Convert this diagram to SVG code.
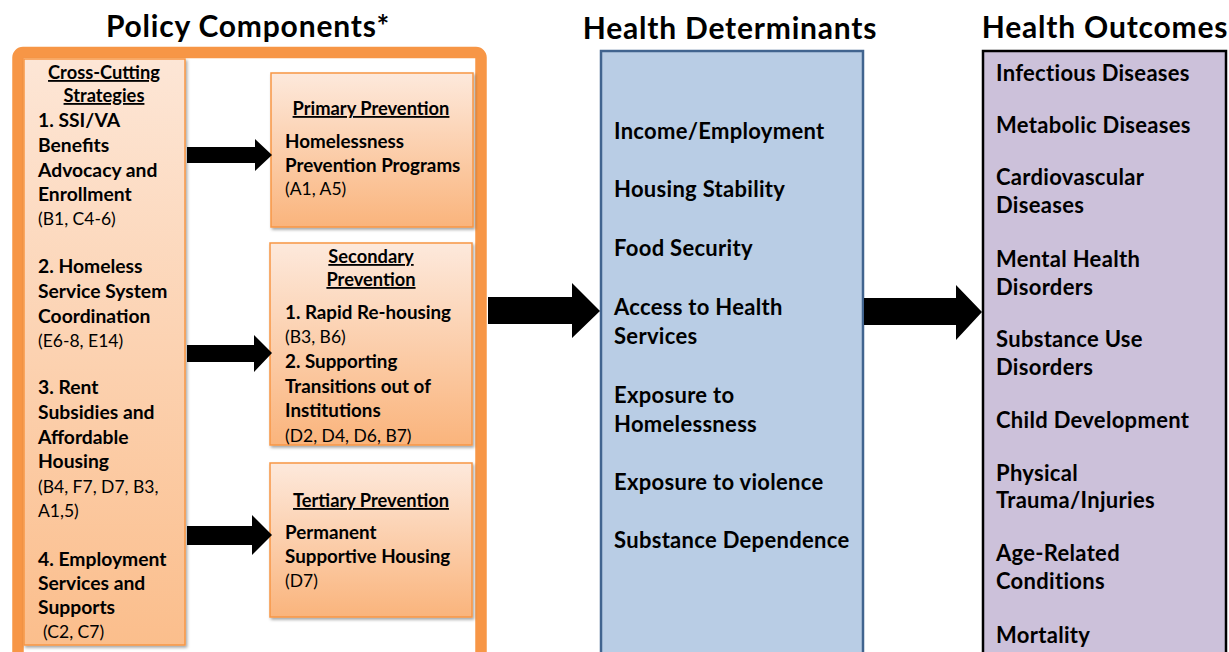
<svg xmlns="http://www.w3.org/2000/svg" width="1229" height="652" viewBox="0 0 1229 652">
<defs>
<linearGradient id="gOr" x1="0" y1="0" x2="0" y2="1">
<stop offset="0" stop-color="#FDE9DC"/>
<stop offset="1" stop-color="#FAB47C"/>
</linearGradient>
<linearGradient id="gOr2" x1="0" y1="0" x2="0" y2="1">
<stop offset="0" stop-color="#FDE6D6"/>
<stop offset="1" stop-color="#FBBE8C"/>
</linearGradient>
<filter id="sh" x="-10%" y="-10%" width="130%" height="130%">
<feDropShadow dx="1.5" dy="2" stdDeviation="1.5" flood-color="#000" flood-opacity="0.35"/>
</filter>
</defs>
<style>
text{font-family:Lato,"Liberation Sans",sans-serif;fill:#000}
.t{font-size:30px;font-weight:bold;letter-spacing:0.8px}
.b{font-size:19.3px;font-weight:bold}
.r{font-size:17.5px;font-weight:normal}
.h{font-size:18.3px;font-weight:bold;text-decoration:underline}
.pb{font-size:18.8px;font-weight:bold}
.d{font-size:22px;font-weight:bold;letter-spacing:0.3px}
.box{stroke:#F79646;stroke-width:1.5}
</style>
<rect width="1229" height="652" fill="#fff"/>
<g id="titles">
<text class="t" x="248" y="37" text-anchor="middle">Policy Components*</text>
<text class="t" x="730" y="39" text-anchor="middle">Health Determinants</text>
<text class="t" x="1105" y="38" text-anchor="middle">Health Outcomes</text>
</g>
<g id="policy-frame">
<rect x="18" y="52.5" width="463" height="610" rx="5" fill="#fff" stroke="#F79646" stroke-width="11.5"/>
</g>
<g id="cross-cutting">
<rect class="box" x="24" y="59" width="161" height="586" fill="url(#gOr2)" filter="url(#sh)"/>
<text class="h" x="104" y="79" text-anchor="middle">Cross-Cutting</text>
<text class="h" x="104" y="102" text-anchor="middle">Strategies</text>
<text class="b" x="38" y="127">1. SSI/VA</text>
<text class="b" x="38" y="152">Benefits</text>
<text class="b" x="38" y="177">Advocacy and</text>
<text class="b" x="38" y="201">Enrollment</text>
<text class="r" x="38" y="225">(B1, C4-6)</text>
<text class="b" x="38" y="273">2. Homeless</text>
<text class="b" x="38" y="298">Service System</text>
<text class="b" x="38" y="323">Coordination</text>
<text class="r" x="38" y="347">(E6-8, E14)</text>
<text class="b" x="38" y="394">3. Rent</text>
<text class="b" x="38" y="419">Subsidies and</text>
<text class="b" x="38" y="444">Affordable</text>
<text class="b" x="38" y="468">Housing</text>
<text class="r" x="38" y="493">(B4, F7, D7, B3,</text>
<text class="r" x="38" y="517">A1,5)</text>
<text class="b" x="38" y="566">4. Employment</text>
<text class="b" x="38" y="590">Services and</text>
<text class="b" x="38" y="614">Supports</text>
<text class="r" x="43" y="638">(C2, C7)</text>
</g>
<g id="primary">
<rect class="box" x="271" y="73" width="202" height="154" fill="url(#gOr)" filter="url(#sh)"/>
<text class="h" x="371" y="115" text-anchor="middle">Primary Prevention</text>
<text class="pb" x="285" y="148">Homelessness</text>
<text class="pb" x="285" y="172">Prevention Programs</text>
<text class="r" x="285" y="195">(A1, A5)</text>
</g>
<g id="secondary">
<rect class="box" x="270" y="243" width="202" height="202" fill="url(#gOr)" filter="url(#sh)"/>
<text class="h" x="371" y="263" text-anchor="middle">Secondary</text>
<text class="h" x="371" y="286" text-anchor="middle">Prevention</text>
<text class="pb" x="285" y="319">1. Rapid Re-housing</text>
<text class="r" x="285" y="343">(B3, B6)</text>
<text class="pb" x="285" y="368">2. Supporting</text>
<text class="pb" x="285" y="393">Transitions out of</text>
<text class="pb" x="285" y="417">Institutions</text>
<text class="r" x="285" y="442">(D2, D4, D6, B7)</text>
</g>
<g id="tertiary">
<rect class="box" x="270" y="463" width="202" height="154" fill="url(#gOr)" filter="url(#sh)"/>
<text class="h" x="371" y="507" text-anchor="middle">Tertiary Prevention</text>
<text class="pb" x="285" y="539">Permanent</text>
<text class="pb" x="285" y="563">Supportive Housing</text>
<text class="r" x="285" y="587">(D7)</text>
</g>
<g id="determinants">
<rect x="601" y="51" width="262" height="610" fill="#B9CDE5" stroke="#41648F" stroke-width="2.5"/>
<text class="d" x="614" y="139">Income/Employment</text>
<text class="d" x="614" y="197">Housing Stability</text>
<text class="d" x="614" y="256">Food Security</text>
<text class="d" x="614" y="315">Access to Health</text>
<text class="d" x="614" y="344">Services</text>
<text class="d" x="614" y="403">Exposure to</text>
<text class="d" x="614" y="432">Homelessness</text>
<text class="d" x="614" y="490">Exposure to violence</text>
<text class="d" x="614" y="548">Substance Dependence</text>
</g>
<g id="outcomes">
<rect x="983" y="51" width="243" height="610" fill="#CCC1DA" stroke="#000" stroke-width="2.5"/>
<text class="d" x="996" y="81">Infectious Diseases</text>
<text class="d" x="996" y="133">Metabolic Diseases</text>
<text class="d" x="996" y="185">Cardiovascular</text>
<text class="d" x="996" y="213">Diseases</text>
<text class="d" x="996" y="267">Mental Health</text>
<text class="d" x="996" y="295">Disorders</text>
<text class="d" x="996" y="347">Substance Use</text>
<text class="d" x="996" y="375">Disorders</text>
<text class="d" x="996" y="428">Child Development</text>
<text class="d" x="996" y="481">Physical</text>
<text class="d" x="996" y="508">Trauma/Injuries</text>
<text class="d" x="996" y="561">Age-Related</text>
<text class="d" x="996" y="589">Conditions</text>
<text class="d" x="996" y="643">Mortality</text>
</g>
<g id="connectors" fill="#000">
<polygon points="187,147 255,147 255,139 272,155 255,171 255,163 187,163"/>
<polygon points="187,345 254,345 254,335 272,353 254,372 254,362 187,362"/>
<polygon points="187,526 252,526 252,515 272,535 252,555 252,545 187,545"/>
<polygon points="488,297 572,297 572,283 600,311 572,338 572,324 488,324"/>
<polygon points="864,298 956,298 956,285 982,312 956,340 956,325 864,325"/>
</g>
</svg>
